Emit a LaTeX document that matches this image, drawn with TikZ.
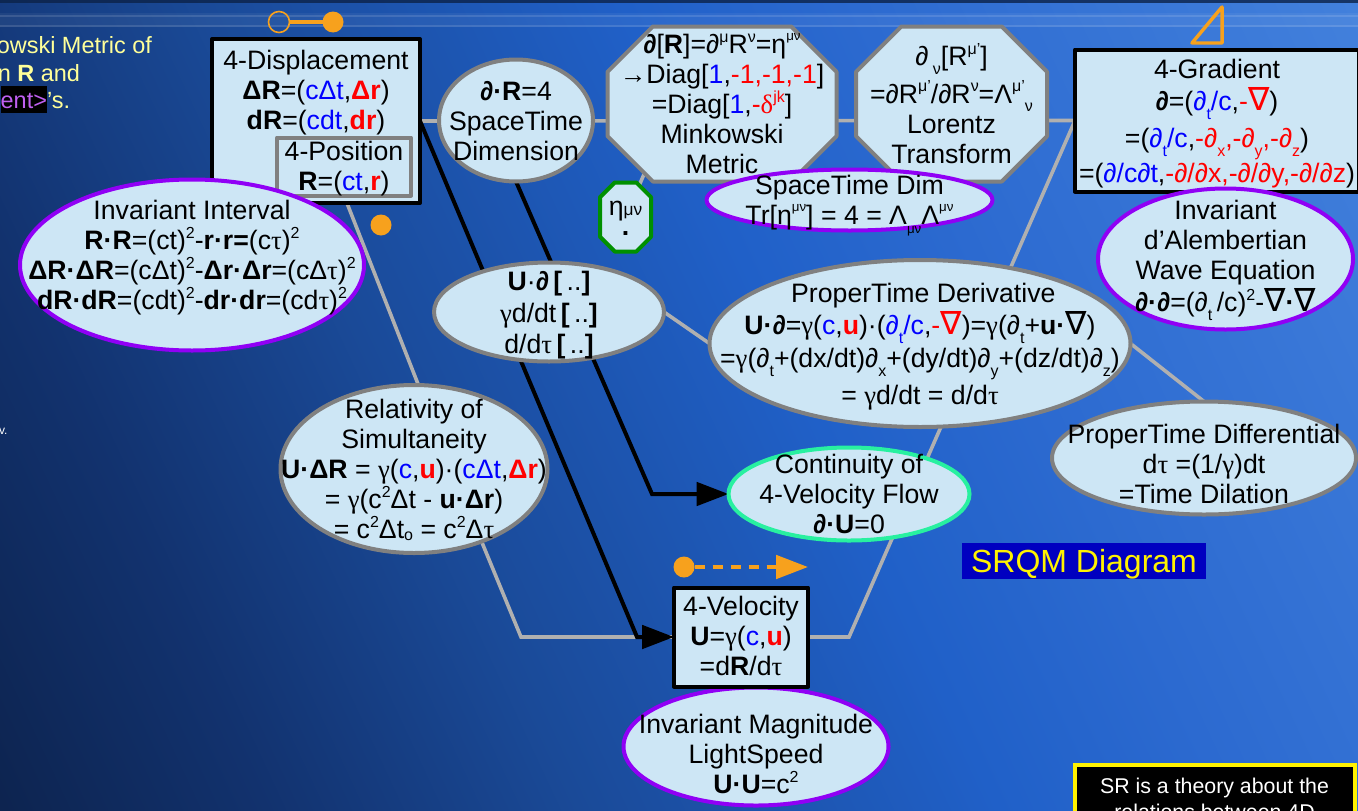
\documentclass[tikz,border=0pt]{standalone}
\usepackage{fontspec}
\setmainfont{Liberation Sans}
\newfontfamily\symfam{Liberation Serif}
\newfontfamily\dvfam{DejaVu Sans}
\usetikzlibrary{shapes.geometric,arrows.meta}
\definecolor{bga}{HTML}{0C2248}\definecolor{bgb}{HTML}{0D2450}\definecolor{bgc}{HTML}{12326E}
\definecolor{bgd}{HTML}{1A4A98}\definecolor{bge}{HTML}{2060C8}\definecolor{bgf}{HTML}{2C6AD0}\definecolor{bgg}{HTML}{4280DC}
\definecolor{pale}{HTML}{CDE6F5}\definecolor{gborder}{HTML}{808080}\definecolor{glink}{HTML}{B0B0B0}
\definecolor{purp}{HTML}{9000F5}\definecolor{orng}{HTML}{F7A11D}\definecolor{mint}{HTML}{28F0A0}
\definecolor{dgreen}{HTML}{009000}\definecolor{softy}{HTML}{FFFF99}\definecolor{hlp}{HTML}{C060F0}
\definecolor{titleblue}{HTML}{0000C0}
\pgfdeclarehorizontalshading{bgsh}{100bp}{color(0bp)=(bga); color(17bp)=(bgb); color(27bp)=(bgc); color(39bp)=(bgd); color(55bp)=(bge); color(64bp)=(bgf); color(83bp)=(bgg); color(100bp)=(bgg)}
\pgfdeclarelayer{ground}
\pgfdeclarelayer{links}
\pgfsetlayers{ground,links,main}
\newdimen\oxa\newdimen\oya\newdimen\oxb\newdimen\oyb
\def\octocut{20pt}
\makeatletter
\pgfdeclareshape{octo}{
  \inheritsavedanchors[from=rectangle]
  \inheritanchorborder[from=rectangle]
  \inheritanchor[from=rectangle]{center}
  \inheritanchor[from=rectangle]{north}
  \inheritanchor[from=rectangle]{south}
  \inheritanchor[from=rectangle]{east}
  \inheritanchor[from=rectangle]{west}
  \backgroundpath{
    \southwest \global\oxa=\pgf@x \global\oya=\pgf@y
    \northeast \global\oxb=\pgf@x \global\oyb=\pgf@y
    \pgfpathmoveto{\pgfqpoint{\dimexpr\oxa+\octocut\relax}{\oya}}
    \pgfpathlineto{\pgfqpoint{\dimexpr\oxb-\octocut\relax}{\oya}}
    \pgfpathlineto{\pgfqpoint{\oxb}{\dimexpr\oya+\octocut\relax}}
    \pgfpathlineto{\pgfqpoint{\oxb}{\dimexpr\oyb-\octocut\relax}}
    \pgfpathlineto{\pgfqpoint{\dimexpr\oxb-\octocut\relax}{\oyb}}
    \pgfpathlineto{\pgfqpoint{\dimexpr\oxa+\octocut\relax}{\oyb}}
    \pgfpathlineto{\pgfqpoint{\oxa}{\dimexpr\oyb-\octocut\relax}}
    \pgfpathlineto{\pgfqpoint{\oxa}{\dimexpr\oya+\octocut\relax}}
    \pgfpathclose
  }
}
\makeatother
\newcommand\Bl[1]{\textcolor{blue}{#1}}
\newcommand\Rd[1]{\textcolor{red}{#1}}
\newcommand\pd{{\itshape ∂}}
\newcommand\bpd{{\bfseries\itshape ∂}}
\newcommand\gm{{\symfam γ}}
\newcommand\tu{{\symfam τ}}
\newcommand\nab{{\fontsize{24}{22}\dvfam ∇}}
\newcommand\Sp[1]{\raisebox{.42em}[0pt][0pt]{\fontsize{12}{12}\selectfont #1}}
\newcommand\Sb[1]{\raisebox{-.32em}[0pt][0pt]{\fontsize{12}{12}\selectfont #1}}
\newcommand\Ss[1]{\raisebox{.5em}[0pt][0pt]{\fontsize{10}{10}\selectfont #1}}
\newcommand\Tx[3]{\makebox[0pt][c]{\hspace*{\dimexpr #1pt*3/2\relax}\raisebox{\dimexpr -#2pt*3/4-.6pt\relax}[0pt][0pt]{\begin{tabular}[t]{@{}c@{}}#3\end{tabular}}}}
\tikzset{
  sz/.style 2 args={minimum width=(#1-4)*.75pt, minimum height=(#2-4)*.75pt},
  cut/.code={\def\octocut{#1}},
  base/.style={inner sep=0pt, outer sep=0pt, fill=pale, line width=3pt, line join=round, text=black, font=\fontsize{20}{22.5}\selectfont},
  blackbox/.style={base, rectangle, draw=black},
  graybox/.style={base, rectangle, draw=gborder},
  gell/.style={base, ellipse, draw=gborder},
  pell/.style={base, ellipse, draw=purp},
  mell/.style={base, ellipse, draw=mint},
  goct/.style={base, shape=octo, draw=gborder, cut=34pt},
  greenoct/.style={base, shape=octo, draw=dgreen, cut=11pt},
  glinkst/.style={draw=glink, line width=2.7pt, line join=miter},
  blink/.style={draw=black, line width=3pt, -{Triangle[length=24pt,width=17.5pt]}},
  odot/.style={circle, fill=orng, inner sep=0pt, outer sep=0pt, minimum size=15.75pt},
  oring/.style={circle, draw=orng, line width=1.2pt, inner sep=0pt, outer sep=0pt, minimum size=15.75pt},
  olink/.style={draw=orng, line width=3pt},
  side text/.style={inner sep=0pt, outer sep=0pt, text=softy, font=\fontsize{17.6}{20}\selectfont},
}
\begin{document}
\begin{tikzpicture}[x=.75pt,y=-.75pt]
\path[use as bounding box] (0,0) rectangle (1358,810);
\clip (0,0) rectangle (1358,810);
\begin{pgfonlayer}{ground}
\path[shading=bgsh, shading angle=25] (0,0) rectangle (1358,810);
\fill[bga, opacity=.8] (0,0) rectangle (1358,3);
\fill[white, opacity=.05] (0,13) rectangle (1358,27);
\fill[white, opacity=.12] (0,15) rectangle (1358,17);
\fill[white, opacity=.12] (0,25) rectangle (1358,27);
\end{pgfonlayer}

\coordinate (rtop) at (418,384);
\coordinate (b1) at (637,637);
\coordinate (b2) at (521,637);
\coordinate (b3) at (849,637);
\coordinate (b4) at (652,494);
\coordinate (o1b) at (648,165);

\node[blackbox, sz={212}{168}] (disp) at (316,121) {\Tx{0}{-52}{4-Displacement\\\textbf{ΔR}=(\Bl{cΔt},\Rd{\textbf{Δr}})\\\textbf{dR}=(\Bl{cdt},\Rd{\textbf{dr}})}};
\node[graybox, sz={138}{62}] (pos) at (344,166.5) {\Tx{0}{-7}{4-Position\\\textbf{R}=(\Bl{ct},\Rd{\textbf{r}})}};
\node[pell, sz={348}{175}] (inv) at (192,265) {\Tx{0}{-46}{Invariant Interval\\\textbf{R·R}=(ct)\Sp{2}-\textbf{r·r=}(c\tu)\Sp{2}\\\textbf{ΔR·ΔR}=(cΔt)\Sp{2}-\textbf{Δr·Δr}=(cΔ\tu)\Sp{2}\\\textbf{dR·dR}=(cdt)\Sp{2}-\textbf{dr·dr}=(cd\tu)\Sp{2}}};
\node[gell, sz={158}{126}] (dr) at (516,120.5) {\Tx{0}{-20.5}{\bpd\textbf{·R}=4\\SpaceTime\\Dimension}};
\node[goct, sz={233}{159}] (oa) at (722,104) {\Tx{0}{-51}{\bpd[\textbf{R}]=\pd\Sp{μ}R\Sp{ν}=η\Ss{μν}\\{\symfam →}Diag[\Bl{1},\Rd{-1,-1,-1}]\\=Diag[\Bl{1},\Rd{-{\symfam δ}\Sp{jk}}]\\Minkowski\\Metric}};
\node[goct, sz={195}{159}] (ob) at (951.5,104) {\Tx{0}{-39}{\pd\,\Sb{ν}[R\Sp{μ’}]\\[5.5pt]=\pd R\Sp{μ’}/\pd R\Sp{ν}=Λ\Sp{μ’}\Sb{ν}\\Lorentz\\Transform}};
\node[greenoct, sz={55}{73}] (eta) at (625.5,217) {\Tx{0}{-2}{η{\fontsize{13}{13}\selectfont μν}\\[-8pt]\textbf{.}}};
\node[pell, sz={290}{65}] (dim) at (849.5,200) {\Tx{0}{-6}{SpaceTime Dim\\Tr[η\Ss{μν}] = 4 = Λ\Sb{\fontsize{10}{10}\selectfont μν}Λ\Ss{μν}}};
\node[blackbox, sz={288}{146}] (grad) at (1217,120.5) {\Tx{0}{-42.5}{4-Gradient\\\bpd=(\Bl{\pd\Sb{t}/c},\Rd{-\nab})\\[5.25pt]=(\Bl{\pd\Sb{t}/c},\Rd{-\pd\Sb{x},-\pd\Sb{y},-\pd\Sb{z}})\\[3.75pt]=(\Bl{\pd/c\pd t},\Rd{-\pd/\pd x,-\pd/\pd y,-\pd/\pd z})}};
\node[pell, sz={259}{145}] (dal) at (1225.5,259) {\Tx{0}{-40}{Invariant\\d’Alembertian\\Wave Equation\\\bpd\textbf{·}\bpd=(\pd\Sb{t}\,/c)\Sp{2}-\nab\textbf{·}\nab}};
\node[gell, sz={234}{103}] (ud) at (549,312) {\Tx{0}{-22}{\textbf{U}·\bpd\,\textbf{[}\,..\textbf{]}\\[1.1pt]\gm d/dt\,\textbf{[}\,..\textbf{]}\\[1.1pt]d/d\tu\,\textbf{[}\,..\textbf{]}}};
\node[gell, sz={425}{171}] (ptd) at (920,343.5) {\Tx{0}{-41.5}{\hspace*{5pt}ProperTime Derivative\\\textbf{U·}\bpd=\gm(\Bl{c},\Rd{\textbf{u}})·(\Bl{\pd\Sb{t}/c},\Rd{-\nab})=\gm(\pd\Sb{t}+\textbf{u·}\nab)\\[2pt]=\gm(\pd\Sb{t}+(dx/dt)\pd\Sb{x}+(dy/dt)\pd\Sb{y}+(dz/dt)\pd\Sb{z})\\[5.25pt]= \gm d/dt = d/d\tu}};
\node[gell, sz={308}{117}] (diff) at (1204,458) {\Tx{0}{-15}{ProperTime Differential\\d\tu{} =(1/\gm)dt\\=Time Dilation}};
\node[gell, sz={271}{172}] (rel) at (414,469) {\Tx{0}{-51}{Relativity of\\Simultaneity\\\textbf{U·ΔR} = \gm(\Bl{c},\Rd{\textbf{u}})·(\Bl{cΔt},\Rd{\textbf{Δr}})\\= \gm(c\Sp{2}Δt - \textbf{u·Δr})\\= c\Sp{2}Δt{\fontsize{12}{12}\selectfont \raisebox{-.1em}{o}} = c\Sp{2}Δ\tu}};
\node[mell, sz={245}{97}] (cont) at (849,494) {\Tx{0}{-21}{Continuity of\\4-Velocity Flow\\\bpd\textbf{·U}=0}};
\node[pell, sz={269}{122}] (mag) at (756,746.5) {\Tx{0}{-13.5}{Invariant Magnitude\\LightSpeed\\\textbf{U·U}=c\Sp{2}}};
\node[blackbox, sz={138}{103}] (vel) at (741,637) {\Tx{0}{-22}{4-Velocity\\\textbf{U}=\gm(\Bl{c},\Rd{\textbf{u}})\\=d\textbf{R}/d\tu}};

\begin{pgfonlayer}{links}
\draw[glinkst] (disp.east) -- (grad.west);
\draw[glinkst] (pos.south) -- (rtop);
\draw[glinkst] (rel.-47) -- (b2) -- (vel.west);
\draw[glinkst] (vel.east) -- (b3) -- (grad.west);
\draw[glinkst] (ud.east) -- (ptd.west);
\draw[glinkst] (ptd.east) -- (diff.north);
\draw[glinkst] (eta.center) -- (o1b);
\draw[blink] (disp.east) -- (b1) -- (vel.west);
\draw[blink] (dr.south) -- (b4) -- (cont.west);
\end{pgfonlayer}

\node[oring] (ra) at (279,22) {};
\node[odot] (rb) at (333,22) {};
\draw[olink] (ra) -- (rb);
\node[odot] (rc) at (381,225) {};
\node[odot] (rd) at (684,567) {};
\coordinate (re) at (808,567);
\draw[olink, dash pattern=on 7.5pt off 6pt, -{Triangle[length=24pt,width=17.5pt]}] (rd) -- (re);
\draw[orng, line width=2.6pt, line join=round] (1192,43) -- (1222,43) -- (1222,7) -- cycle;

\node[inner sep=0pt, outer sep=0pt, fill=titleblue, minimum width=183pt, minimum height=27pt, text=yellow, font=\fontsize{24}{26}\selectfont] (title) at (1084,561) {\Tx{0}{10.5}{SRQM Diagram}};
\node[draw=yellow, fill=black, line width=3pt, inner sep=0pt, outer sep=0pt, minimum width=210pt, minimum height=60pt, text=white, font=\fontsize{16}{19.5}\selectfont] (note) at (1214.5,805) {\Tx{0}{-12}{SR is a theory about the\\relations between 4D}};

\node[side text, anchor=base east] (la) at (152,53) {owski Metric of};
\node[side text, anchor=base east] (lb) at (80,81) {n \textbf{R} and};
\node[side text, anchor=base east, fill=black, text=hlp, text height=16.5pt, text depth=3.75pt] (lc) at (47,108) {ent>};
\node[side text, anchor=base west] (ld) at (47,108) {’s.};
\node[inner sep=0pt, outer sep=0pt, anchor=base west, text=white, font=\fontsize{9}{10}\selectfont] (le) at (-1,434) {v.};
\end{tikzpicture}
\end{document}
